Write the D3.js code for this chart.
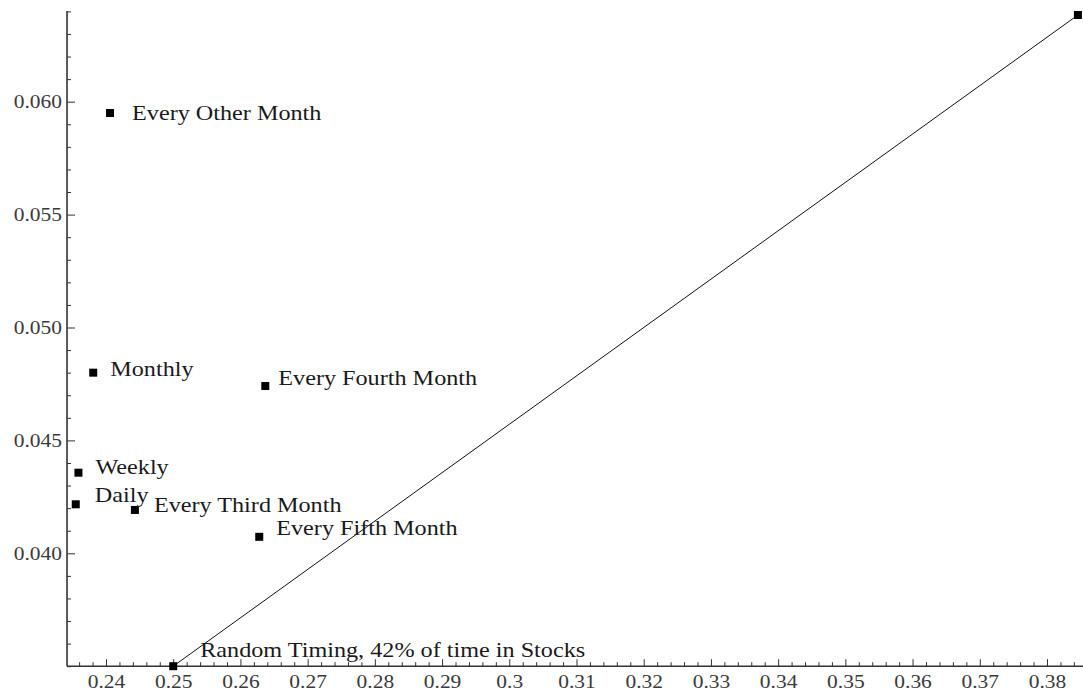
<!DOCTYPE html>
<html>
<head>
<meta charset="utf-8">
<script src="https://cdn.jsdelivr.net/npm/d3@7"></script>
<style>
  html, body { margin: 0; padding: 0; background: #fff; }
  svg { display: block; }
</style>
</head>
<body>
<div id="chart"></div>
<script>
// data
const names = ["Every Other Month", "Monthly", "Every Fourth Month", "Weekly", "Daily",
               "Every Third Month", "Every Fifth Month", "Random Timing, 42% of time in Stocks"]
const xs = [0.2406, 0.2381, 0.2637, 0.2359, 0.2355, 0.2443, 0.2628, 0.2500]
const ys = [0.0595, 0.0480, 0.04741, 0.04357, 0.04217, 0.04192, 0.04073, 0.0350]

// end point of the straight line (no label)
const lineX = [0.2500, 0.3846]
const lineY = [0.0350, 0.06384]

const xTicks = [0.24, 0.25, 0.26, 0.27, 0.28, 0.29, 0.30, 0.31, 0.32, 0.33, 0.34, 0.35, 0.36, 0.37, 0.38]
const xTickLabels = ["0.24", "0.25", "0.26", "0.27", "0.28", "0.29", "0.3", "0.31", "0.32", "0.33", "0.34", "0.35", "0.36", "0.37", "0.38"]
const yTicks = [0.040, 0.045, 0.050, 0.055, 0.060]
const yTickLabels = ["0.040", "0.045", "0.050", "0.055", "0.060"]

const W = 1083, H = 692

// scales fitted to the tick positions in the picture
const x = d3.scaleLinear().domain([0.24, 0.38]).range([106, 1047])
const y = d3.scaleLinear().domain([0.040, 0.060]).range([553.3, 101.7])

const xMin = 0.2342, xMax = x.invert(W)
const yMin = 0.0350, yMax = y.invert(11)

const svg = d3.select("#chart").append("svg")
  .attr("width", W)
  .attr("height", H)
  .style("font-family", "'Liberation Serif', 'Times New Roman', serif")

const stretch = 1.13   // the picture's text is a bit wide

// x axis, minor ticks first
const xMinor = d3.range(0.236, 0.3845, 0.002).filter(v => xTicks.every(t => Math.abs(t - v) > 1e-6))
svg.append("g")
  .attr("transform", `translate(0,${y(yMin)})`)
  .call(d3.axisBottom(x).tickValues(xMinor).tickSize(-4).tickFormat(""))
  .call(g => g.select(".domain").remove())
  .call(g => g.selectAll("line").attr("stroke", "#333"))

const xAxis = svg.append("g")
  .attr("transform", `translate(0,${y(yMin)})`)
  .call(d3.axisBottom(x).tickValues(xTicks).tickSize(-7).tickPadding(8)
    .tickFormat((d, i) => xTickLabels[i]))
xAxis.select(".domain").remove()
xAxis.selectAll("line").attr("stroke", "#333")
xAxis.selectAll("text")
  .attr("font-size", 19)
  .attr("fill", "#3a3a3a")
  .attr("font-family", null)
  .attr("transform", `scale(${stretch},1)`)
xAxis.attr("font-family", null)

svg.append("line")
  .attr("x1", x(xMin)).attr("x2", W)
  .attr("y1", y(yMin)).attr("y2", y(yMin))
  .attr("stroke", "#333").attr("stroke-width", 1.6)

// y axis
const yMinor = d3.range(0.035, 0.0645, 0.001).filter(v => yTicks.every(t => Math.abs(t - v) > 1e-6))
svg.append("g")
  .attr("transform", `translate(${x(xMin)},0)`)
  .call(d3.axisLeft(y).tickValues(yMinor).tickSize(-4).tickFormat(""))
  .call(g => g.select(".domain").remove())
  .call(g => g.selectAll("line").attr("stroke", "#333"))

const yAxis = svg.append("g")
  .attr("transform", `translate(${x(xMin)},0)`)
  .call(d3.axisLeft(y).tickValues(yTicks).tickSize(-8).tickPadding(5)
    .tickFormat((d, i) => yTickLabels[i]))
yAxis.select(".domain").remove()
yAxis.attr("font-family", null)
yAxis.selectAll("line").attr("stroke", "#333")
yAxis.selectAll("text")
  .attr("font-size", 19)
  .attr("fill", "#3a3a3a")
  .attr("x", -5 / stretch)
  .attr("transform", `scale(${stretch},1)`)

svg.append("line")
  .attr("x1", x(xMin)).attr("x2", x(xMin))
  .attr("y1", y(yMin)).attr("y2", y(yMax))
  .attr("stroke", "#333").attr("stroke-width", 1.6)

// the straight line
const linePts = lineX.map((v, i) => [v, lineY[i]])
svg.append("path")
  .datum(linePts)
  .attr("fill", "none")
  .attr("stroke", "#111")
  .attr("stroke-width", 1)
  .attr("d", d3.line().x(d => x(d[0])).y(d => y(d[1])))

// points
const pts = names.map((n, i) => ({ name: n, x: xs[i], y: ys[i] }))
const sq = 8
svg.append("g").selectAll("rect")
  .data(pts.concat([{ name: "", x: lineX[1], y: lineY[1] }]))
  .join("rect")
    .attr("x", d => x(d.x) - sq / 2)
    .attr("y", d => y(d.y) - sq / 2)
    .attr("width", sq)
    .attr("height", sq)
    .attr("fill", "#000")

// labels: default offset right of the point, a few nudged like the original
const nudge = {
  "Every Other Month": [22, 7],
  "Monthly": [17, 3],
  "Every Fourth Month": [13, -1],
  "Weekly": [17, 1],
  "Daily": [19, -2],
  "Every Third Month": [19, 2],
  "Every Fifth Month": [17, -2],
  "Random Timing, 42% of time in Stocks": [27, -9]
}
svg.append("g").selectAll("g")
  .data(pts)
  .join("g")
    .attr("transform", d => {
      const o = nudge[d.name] || [17, 3]
      return `translate(${x(d.x) + o[0]},${y(d.y) + o[1]}) scale(1.1,1)`
    })
  .append("text")
    .attr("font-size", 22)
    .attr("fill", "#1a1a1a")
    .text(d => d.name)
</script>
</body>
</html>
